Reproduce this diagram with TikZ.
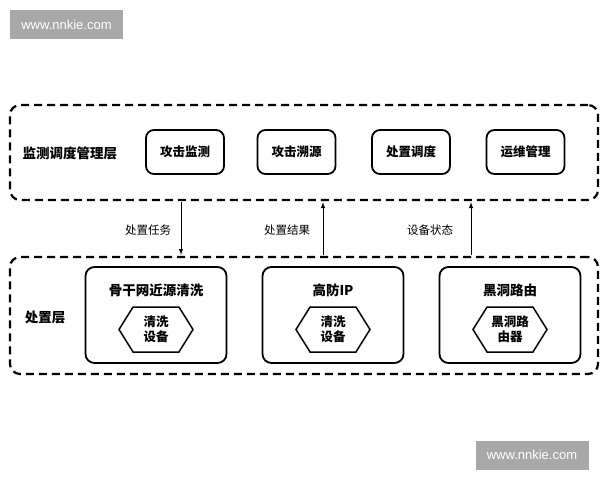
\documentclass[tikz,border=0pt]{standalone}
\usepackage{fontspec}
\setmainfont{Noto Sans CJK SC}
\newfontfamily\wmfont{Liberation Sans}
\usetikzlibrary{shapes.symbols,arrows,positioning}
\definecolor{wmgray}{RGB}{168,168,168}

\begin{document}
\begin{tikzpicture}[x=1pt,y=-1pt,>=latex,
	wm/.style={fill=wmgray, text=white, font=\wmfont\fontsize{13}{15}\selectfont, minimum width=113pt, minimum height=29pt, inner sep=0pt},
	layer/.style={draw, line width=2.2pt, dash pattern=on 8pt off 5pt, rounded corners=10pt, inner sep=0pt},
	func/.style={draw, line width=1.8pt, rounded corners=8pt, minimum width=78pt, minimum height=44pt, font=\bfseries\fontsize{12.5}{15}\selectfont},
	dev/.style={draw, line width=1.8pt, rounded corners=9pt, minimum width=141pt, minimum height=96pt},
	hexa/.style={draw, line width=1.5pt, shape=signal, signal to=west and east, signal pointer angle=116, minimum width=74pt, minimum height=45pt, inner sep=1pt, align=center, font=\bfseries\fontsize{12.5}{15}\selectfont},
	title/.style={font=\bfseries\fontsize{13.5}{16}\selectfont},
	tag/.style={font=\fontsize{11.5}{14}\selectfont},
	link/.style={line width=1pt, shorten >=1.1pt, shorten <=1.1pt}]
	\useasboundingbox (0,0) rectangle (600,480);
	\node[wm] (wm1) at (66.5,24.5) {www.nnkie.com};
	\node[wm] (wm2) at (532,455) {www.nnkie.com};
	% two layers
	\node[layer, minimum width=588pt, minimum height=95pt] (mgmt) at (304,152.5) {};
	\node[layer, minimum width=588pt, minimum height=117pt] (exec) at (304,315.5) {};
	\node[title] (mgmtlbl) at (70,153) {监测调度管理层};
	\node[title] (execlbl) at (45,317) {处置层};
	\foreach \x/\t [count=\i] in {185/攻击监测,296.5/攻击溯源,411/处置调度,525.5/运维管理}
		\node[func] (f\i) at (\x,152) {\t};
	\foreach \x/\t/\h [count=\i] in {156/骨干网近源清洗/{清洗\\设备},333/高防IP/{清洗\\设备},510/黑洞路由/{黑洞路\\由器}}{
		\node[dev] (d\i) at (\x,315) {};
		\node[title] (dt\i) at (\x,290) {\t};
		\node[hexa] (h\i) at (\x,329.5) {\h};}
	% arrows between layers
	\node[tag] (l1) at (148,230) {处置任务};
	\node[tag] (l2) at (287,230) {处置结果};
	\node[tag] (l3) at (430,230) {设备状态};
	\coordinate (a1) at (181,230);
	\coordinate (a2) at (323,230);
	\coordinate (a3) at (471,230);
	\draw[link,->] (mgmt.south -| a1) -- (exec.north -| a1);
	\draw[link,<-] (mgmt.south -| a2) -- (exec.north -| a2);
	\draw[link,<-] (mgmt.south -| a3) -- (exec.north -| a3);
\end{tikzpicture}
\end{document}
